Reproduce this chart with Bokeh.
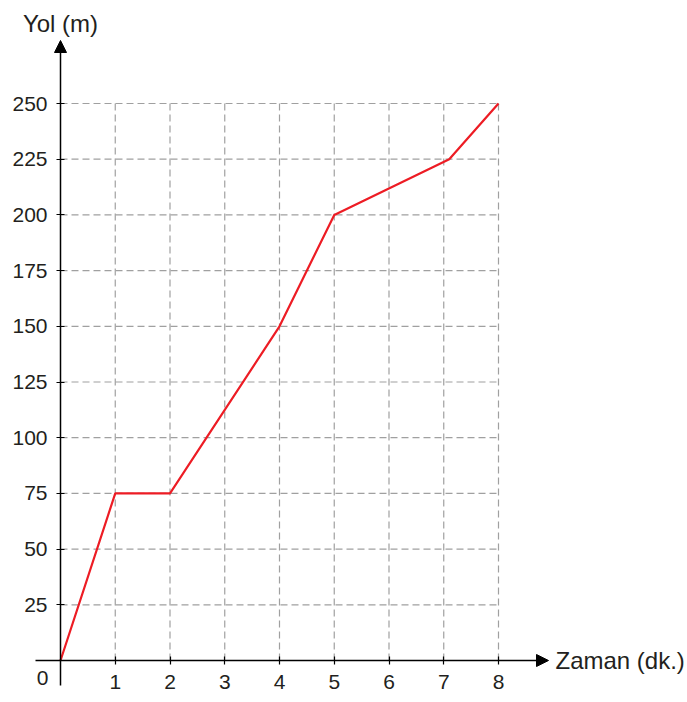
from bokeh.plotting import figure
from bokeh.models import Range1d, FixedTicker, Arrow, NormalHead, Label
from bokeh.embed import file_html
from bokeh.resources import INLINE

# Data
time_min = [0, 1, 2, 4, 5, 7.1, 8]
distance_m = [0, 75, 75, 150, 200, 225, 250]
x_ticks = [1, 2, 3, 4, 5, 6, 7, 8]
y_ticks = [25, 50, 75, 100, 125, 150, 175, 200, 225, 250]
x_label = "Zaman (dk.)"
y_label = "Yol (m)"
origin_label = "0"

W, H = 687, 702
X_PX = 54.75     # pixels per minute
Y_PX = 2.228     # pixels per metre
OX, OY = 60, 660  # origin on the page

x_range = Range1d(-OX / X_PX, (W - OX) / X_PX)
y_range = Range1d(-(H - OY) / Y_PX, OY / Y_PX)

X_ARROW = (548 - OX) / X_PX
Y_ARROW = (OY - 40) / Y_PX
X_TAIL = -(OX - 35) / X_PX
Y_TAIL = -(685 - OY) / Y_PX

FONT = "Liberation Sans"
FS = "21px"
FS_T = "24px"
TXT = "#231f20"

p = figure(width=W, height=H, x_range=x_range, y_range=y_range,
           output_backend="svg", toolbar_location=None,
           min_border=0)
p.outline_line_color = None
p.grid.visible = False
p.background_fill_color = "white"
p.border_fill_color = "white"

for ax in (p.xaxis, p.yaxis):
    ax.fixed_location = 0
    ax.axis_line_color = None
    ax.major_tick_in = 4
    ax.major_tick_out = 4
    ax.minor_tick_line_color = None
    ax.major_tick_line_color = "black"
    ax.major_tick_line_width = 1.2
    ax.major_label_text_font = FONT
    ax.major_label_text_font_size = FS
    ax.major_label_text_color = TXT

p.xaxis.ticker = FixedTicker(ticks=x_ticks)
p.yaxis.ticker = FixedTicker(ticks=y_ticks)
p.xaxis.major_label_standoff = 10
p.yaxis.major_label_standoff = 9

# dashed grid from tick lists
gx_top = max(y_ticks)
gy_right = max(x_ticks)
p.segment(x0=x_ticks, y0=[0] * len(x_ticks), x1=x_ticks, y1=[gx_top] * len(x_ticks),
          line_color="#a0a0a0", line_width=1.2, line_dash="7 4")
p.segment(x0=[0] * len(y_ticks), y0=y_ticks, x1=[gy_right] * len(y_ticks), y1=y_ticks,
          line_color="#a0a0a0", line_width=1.2, line_dash="7 4")

# data line
p.line(time_min, distance_m, line_color="#ed1c24", line_width=2.2)

# axes arrows
p.add_layout(Arrow(x_start=X_TAIL, y_start=0, x_end=X_ARROW, y_end=0,
                   line_color="black", line_width=1.5,
                   end=NormalHead(size=12, fill_color="black", line_color="black")))
p.add_layout(Arrow(x_start=0, y_start=Y_TAIL, x_end=0, y_end=Y_ARROW,
                   line_color="black", line_width=1.5,
                   end=NormalHead(size=12, fill_color="black", line_color="black")))

p.add_layout(Label(x=0, y=max(y_ticks), text=y_label, text_align="center",
                   text_baseline="alphabetic", y_offset=80,
                   text_font=FONT, text_font_size=FS_T, text_color=TXT))
p.add_layout(Label(x=X_ARROW, y=0, text=x_label, text_align="left",
                   text_baseline="middle", x_offset=7,
                   text_font=FONT, text_font_size=FS_T, text_color=TXT))
p.add_layout(Label(x=0, y=0, text=origin_label, text_align="center",
                   text_baseline="top", x_offset=-18, y_offset=-10,
                   text_font=FONT, text_font_size=FS, text_color=TXT))

open("out.html", "w").write(file_html(p, INLINE))
